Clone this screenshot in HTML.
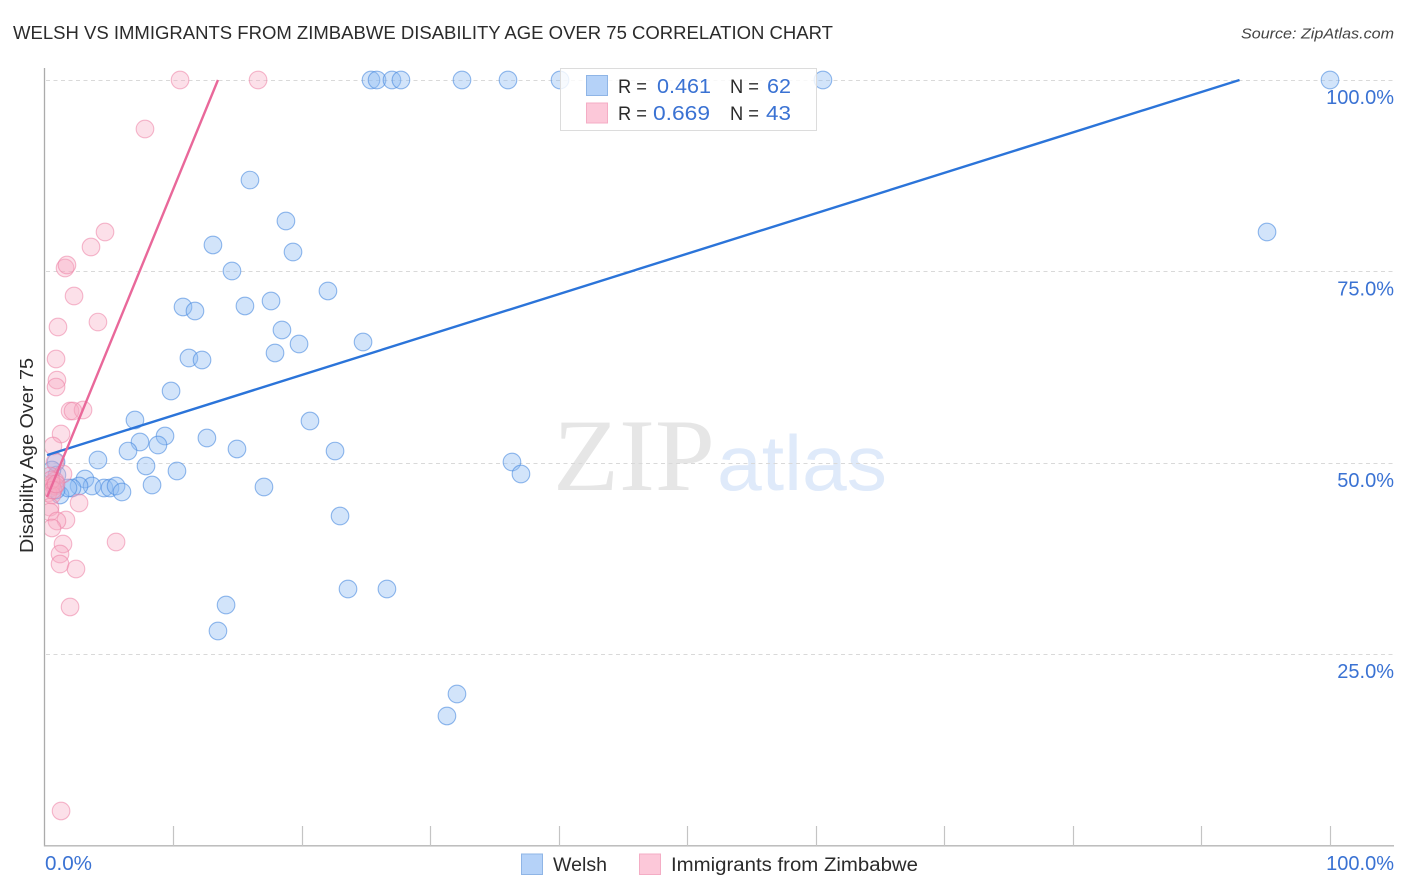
<!DOCTYPE html>
<html>
<head>
<meta charset="utf-8">
<title>Welsh vs Immigrants from Zimbabwe Disability Age Over 75 Correlation Chart</title>
<style>
html,body{margin:0;padding:0;background:#fff;}
svg{display:block;}
text{font-family:"Liberation Sans",sans-serif;}
</style>
</head>
<body>
<svg id="chart" xmlns="http://www.w3.org/2000/svg" width="1406" height="892" viewBox="0 0 1406 892">
  <defs>
    <clipPath id="plot-clip"><rect x="45" y="60" width="1349" height="786"/></clipPath>
  </defs>
  <rect x="0" y="0" width="1406" height="892" fill="#ffffff"/>
  <text x="13" y="39" font-size="18.5" fill="#2b2b2b" textLength="820" lengthAdjust="spacingAndGlyphs">WELSH VS IMMIGRANTS FROM ZIMBABWE DISABILITY AGE OVER 75 CORRELATION CHART</text>
  <text x="1241" y="38.5" font-size="15" font-style="italic" fill="#444444" textLength="153" lengthAdjust="spacingAndGlyphs">Source: ZipAtlas.com</text>

  <text x="553" y="490" font-size="103" fill="#e6e6e6" style="font-family:'Liberation Serif',serif" textLength="162" lengthAdjust="spacingAndGlyphs">ZIP</text>
  <text x="717" y="490" font-size="78" fill="#dfeafa" textLength="170" lengthAdjust="spacingAndGlyphs">atlas</text>

  <g id="grid"></g>
  <g id="axes"></g>
  <g id="welsh-points" clip-path="url(#plot-clip)"></g>
  <g id="zimbabwe-points" clip-path="url(#plot-clip)"></g>
  <g id="trends"></g>
  <g id="tick-labels"></g>

  <text transform="translate(33,553) rotate(-90)" font-size="18" fill="#2b2b2b" textLength="195" lengthAdjust="spacingAndGlyphs">Disability Age Over 75</text>

  <g>
    <rect x="560.5" y="68.5" width="256" height="62" fill="#ffffff" fill-opacity="0.82" stroke="#dcdcdc" stroke-width="1"/>
    <rect x="586.5" y="75.5" width="21" height="20" fill="#b5d2f8" stroke="#8fb5e6"/>
    <rect x="586.5" y="103" width="21" height="20" fill="#fcc8d9" stroke="#f4adc5"/>
    <text x="618" y="93" font-size="19.5" fill="#2b2b2b" textLength="29" lengthAdjust="spacingAndGlyphs">R =</text>
    <text x="657" y="93" font-size="20.5" fill="#3a72d3" textLength="54" lengthAdjust="spacingAndGlyphs">0.461</text>
    <text x="730" y="93" font-size="19.5" fill="#2b2b2b" textLength="29" lengthAdjust="spacingAndGlyphs">N =</text>
    <text x="767" y="93" font-size="20.5" fill="#3a72d3" textLength="24" lengthAdjust="spacingAndGlyphs">62</text>
    <text x="618" y="120" font-size="19.5" fill="#2b2b2b" textLength="29" lengthAdjust="spacingAndGlyphs">R =</text>
    <text x="653" y="120" font-size="20.5" fill="#3a72d3" textLength="57" lengthAdjust="spacingAndGlyphs">0.669</text>
    <text x="730" y="120" font-size="19.5" fill="#2b2b2b" textLength="29" lengthAdjust="spacingAndGlyphs">N =</text>
    <text x="766" y="120" font-size="20.5" fill="#3a72d3" textLength="25" lengthAdjust="spacingAndGlyphs">43</text>
  </g>

  <g>
    <rect x="521.5" y="854" width="21" height="20.5" fill="#b5d2f8" stroke="#8fb5e6"/>
    <text x="553" y="871" font-size="19" fill="#2b2b2b" textLength="54" lengthAdjust="spacingAndGlyphs">Welsh</text>
    <rect x="639.5" y="854" width="21" height="20.5" fill="#fcc8d9" stroke="#f4adc5"/>
    <text x="671" y="871" font-size="19" fill="#2b2b2b" textLength="247" lengthAdjust="spacingAndGlyphs">Immigrants from Zimbabwe</text>
  </g>
</svg>

<script>
var xTickValues = [0,10,20,30,40,50,60,70,80,90,100];
var yGridValues = [25,50,75,100];
var yTickLabels = ["25.0%","50.0%","75.0%","100.0%"];
var xEndLabels = ["0.0%","100.0%"];

var welshX = [25.37,25.84,27.0,27.7,32.45,36.03,40.08,60.54,100,95.1,15.95,18.75,13.07,19.3,14.55,22.02,10.74,11.67,15.56,17.59,18.44,24.75,19.77,17.9,11.2,12.22,9.81,7.0,20.62,9.34,12.6,7.39,6.46,8.79,14.94,22.57,4.12,7.86,10.27,8.33,3.11,17.04,36.34,37.04,22.96,23.58,26.61,14.09,13.46,32.06,31.28,0.86,0.93,3.66,2.65,2.1,4.59,5.06,5.53,5.99,1.17,1.79,0.86,0.54];
var welshY = [100,100,100,100,100,100,100,100,100,80.14,86.93,81.58,78.45,77.53,75.05,72.44,70.35,69.82,70.48,71.13,67.34,65.77,65.51,64.34,63.68,63.42,59.37,55.58,55.45,53.49,53.23,52.71,51.53,52.32,51.8,51.53,50.36,49.58,48.92,47.09,47.88,46.83,50.1,48.53,43.04,33.51,33.51,31.42,28.02,19.79,16.92,50.1,48.4,46.96,46.96,46.7,46.7,46.7,46.96,46.18,45.79,46.7,46.44,49.05];

var zimbabweX = [10.51,16.58,7.78,4.67,3.58,1.56,1.71,2.26,4.12,1.01,0.86,0.93,0.86,1.95,2.96,2.18,1.25,0.62,0.78,1.4,0.39,0.78,0.54,0.39,0.78,0.23,0.54,2.65,0.39,0.39,1.63,0.93,0.54,5.53,1.4,1.17,1.17,2.41,1.95,1.25,0.47,0.62,0.86];
var zimbabweY = [100,100,93.6,80.14,78.18,75.44,75.83,71.78,68.38,67.73,63.55,60.8,59.89,56.76,56.89,56.76,53.76,52.19,50.1,48.53,48.27,47.62,47.22,46.7,46.96,46.05,45.79,44.74,44.2,43.57,42.52,42.39,41.48,39.65,39.39,38.08,36.77,36.12,31.16,4.51,47.75,46.44,47.22];

var welshTrendX = [0.16,92.96];
var welshTrendY = [51.0,100];
var zimbabweTrendX = [0.16,13.46];
var zimbabweTrendY = [45.5,100];

var NS = "http://www.w3.org/2000/svg";
function xScale(v){ return 45 + v * 12.85; }
function yScale(v){ return 845.5 - v * 7.655; }
function make(tag, attrs, parent){
  var el = document.createElementNS(NS, tag);
  for (var k in attrs) { el.setAttribute(k, attrs[k]); }
  parent.appendChild(el);
  return el;
}

var gridGroup = document.getElementById("grid");
var axesGroup = document.getElementById("axes");
var labelGroup = document.getElementById("tick-labels");
var welshGroup = document.getElementById("welsh-points");
var zimGroup = document.getElementById("zimbabwe-points");
var trendGroup = document.getElementById("trends");

yGridValues.forEach(function(v, i){
  var y = Math.round(yScale(v)) + 0.5;
  var line = make("line", {x1:46, x2:1394, y1:y, y2:y, stroke:"#d9d9d9", "stroke-width":1, "stroke-dasharray":"4 3.5"}, gridGroup);
  
  
  var label = make("text", {x:1394, y:yScale(v) + 24, "text-anchor":"end", "font-size":"20", fill:"#3a72d3"}, labelGroup);
  label.textContent = yTickLabels[i];
  
  
});

var yAxis = make("line", {x1:44.5, x2:44.5, y1:68, y2:846.5, stroke:"#ababab", "stroke-width":1.3}, axesGroup);


var xAxis = make("line", {x1:44, x2:1394, y1:845.8, y2:845.8, stroke:"#b4b4b4", "stroke-width":1.3}, axesGroup);



xTickValues.forEach(function(v){
  if (v === 0) { return; }
  var x = Math.floor(xScale(v)) + 0.5;
  var tick = make("line", {x1:x, x2:x, y1:826, y2:846, stroke:"#c4c4c4", "stroke-width":1.2}, axesGroup);
  
  
});

var xLabelLeft = make("text", {x:xScale(xTickValues[0]), y:870, "font-size":"20", fill:"#3a72d3", textLength:"47", lengthAdjust:"spacingAndGlyphs"}, labelGroup);
xLabelLeft.textContent = xEndLabels[0];


var xLabelRight = make("text", {x:1394, y:870, "text-anchor":"end", "font-size":"20", fill:"#3a72d3"}, labelGroup);
xLabelRight.textContent = xEndLabels[1];



welshX.forEach(function(v, i){
  var c = make("circle", {cx:xScale(v), cy:yScale(welshY[i]), r:8.8, fill:"#8fbcf3", "fill-opacity":0.4, stroke:"#4a8be0", "stroke-opacity":0.6, "stroke-width":1.1}, welshGroup);
  
  
});

zimbabweX.forEach(function(v, i){
  var c = make("circle", {cx:xScale(v), cy:yScale(zimbabweY[i]), r:8.8, fill:"#f8a9c2", "fill-opacity":0.36, stroke:"#ec7fa4", "stroke-opacity":0.55, "stroke-width":1.1}, zimGroup);
  
  
});

var welshTrend = make("line", {x1:xScale(welshTrendX[0]), y1:yScale(welshTrendY[0]), x2:xScale(welshTrendX[1]), y2:yScale(welshTrendY[1]), stroke:"#2b74d9", "stroke-width":2.4}, trendGroup);


var zimTrend = make("line", {x1:xScale(zimbabweTrendX[0]), y1:yScale(zimbabweTrendY[0]), x2:xScale(zimbabweTrendX[1]), y2:yScale(zimbabweTrendY[1]), stroke:"#e9689a", "stroke-width":2.4}, trendGroup);


</script>
</body>
</html>
